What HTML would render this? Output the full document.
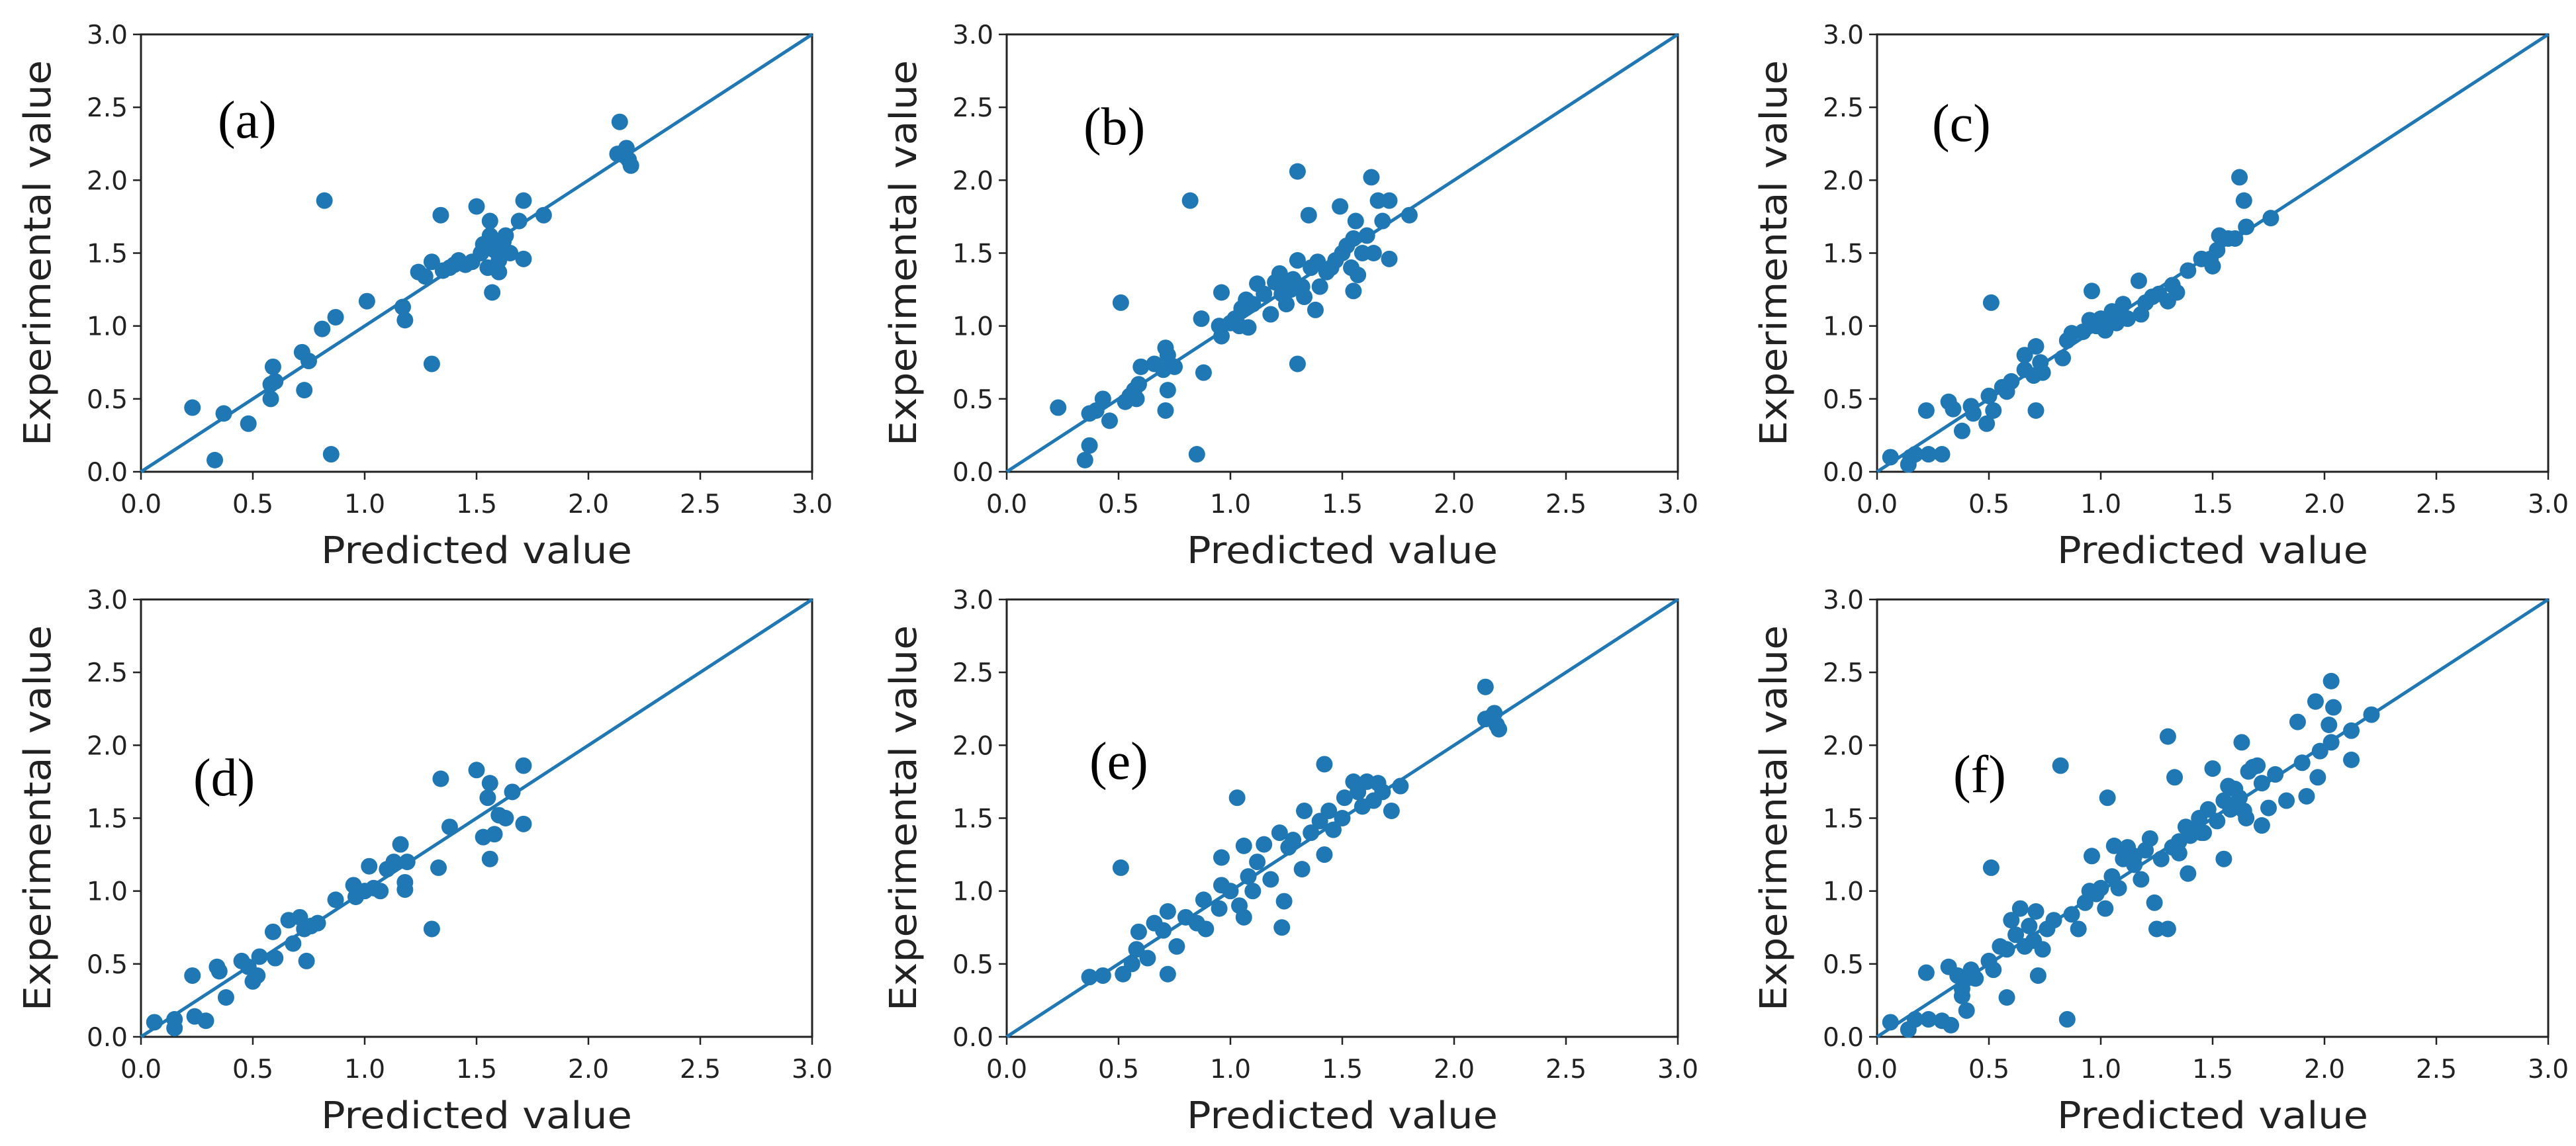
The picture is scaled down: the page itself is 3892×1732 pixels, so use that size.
<!DOCTYPE html>
<html><head><meta charset="utf-8"><style>
html,body{margin:0;padding:0;background:#fff;}
svg{display:block;}
</style></head><body>
<svg id="fig" width="3892" height="1732" viewBox="0 0 3892 1732" xmlns="http://www.w3.org/2000/svg"></svg>
<script>
const ticks = [0, 0.5, 1.0, 1.5, 2.0, 2.5, 3.0];
const tickLabels = ["0.0","0.5","1.0","1.5","2.0","2.5","3.0"];
const panelLetters = ["(a)","(b)","(c)","(d)","(e)","(f)"];

const predA = [0.23,0.33,0.37,0.48,0.58,0.58,0.59,0.60,0.72,0.73,0.75,0.81,0.82,0.85,0.87,1.01,1.17,1.18,1.24,1.27,1.30,1.30,1.34,1.35,1.40,1.45,1.48,1.50,1.52,1.53,1.55,1.56,1.56,1.57,1.58,1.60,1.60,1.62,1.63,1.65,1.69,1.71,1.71,1.80,2.14,2.13,2.17,2.18,2.19,2.16,1.42,1.38];
const expA  = [0.44,0.08,0.40,0.33,0.50,0.60,0.72,0.62,0.82,0.56,0.76,0.98,1.86,0.12,1.06,1.17,1.13,1.04,1.37,1.34,1.44,0.74,1.76,1.38,1.42,1.42,1.44,1.82,1.50,1.56,1.40,1.62,1.72,1.23,1.52,1.45,1.37,1.58,1.62,1.50,1.72,1.86,1.46,1.76,2.40,2.18,2.22,2.14,2.10,2.17,1.45,1.40];

const predB = [0.23,0.35,0.37,0.37,0.40,0.43,0.46,0.51,0.53,0.55,0.57,0.58,0.59,0.60,0.66,0.70,0.71,0.71,0.72,0.72,0.75,0.82,0.85,0.87,0.88,0.95,0.96,0.96,1.00,1.02,1.04,1.05,1.07,1.08,1.10,1.12,1.18,1.20,1.22,1.23,1.25,1.27,1.30,1.30,1.30,1.32,1.33,1.35,1.36,1.38,1.39,1.40,1.43,1.47,1.49,1.50,1.52,1.54,1.55,1.55,1.56,1.57,1.59,1.61,1.63,1.64,1.66,1.68,1.71,1.71,1.80,1.25,1.28,1.15,1.45];
const expB  = [0.44,0.08,0.18,0.40,0.42,0.50,0.35,1.16,0.48,0.52,0.56,0.50,0.60,0.72,0.74,0.70,0.85,0.42,0.56,0.80,0.72,1.86,0.12,1.05,0.68,1.00,0.93,1.23,1.02,1.05,1.00,1.12,1.18,0.99,1.15,1.29,1.08,1.30,1.36,1.22,1.15,1.25,2.06,0.74,1.45,1.27,1.20,1.76,1.40,1.11,1.44,1.27,1.37,1.45,1.82,1.50,1.55,1.40,1.24,1.60,1.72,1.35,1.50,1.62,2.02,1.50,1.86,1.72,1.86,1.46,1.76,1.28,1.32,1.22,1.40];

const predC = [0.06,0.14,0.15,0.17,0.23,0.29,0.22,0.32,0.34,0.38,0.42,0.43,0.49,0.50,0.51,0.52,0.56,0.58,0.60,0.66,0.66,0.70,0.71,0.71,0.73,0.74,0.83,0.85,0.87,0.92,0.95,0.96,0.98,1.00,1.02,1.05,1.07,1.10,1.12,1.17,1.18,1.20,1.23,1.26,1.30,1.32,1.34,1.39,1.45,1.49,1.50,1.52,1.53,1.57,1.60,1.62,1.64,1.65,1.76];
const expC  = [0.10,0.05,0.10,0.12,0.12,0.12,0.42,0.48,0.43,0.28,0.45,0.40,0.33,0.52,1.16,0.42,0.58,0.55,0.62,0.80,0.70,0.66,0.86,0.42,0.75,0.68,0.78,0.90,0.95,0.96,1.04,1.24,1.00,1.05,0.97,1.10,1.02,1.15,1.05,1.31,1.08,1.16,1.20,1.22,1.17,1.28,1.23,1.38,1.46,1.46,1.41,1.52,1.62,1.60,1.60,2.02,1.86,1.68,1.74];

const predD = [0.06,0.15,0.15,0.23,0.24,0.29,0.34,0.35,0.38,0.45,0.48,0.50,0.52,0.53,0.60,0.59,0.66,0.68,0.71,0.74,0.73,0.76,0.79,0.87,0.95,0.96,1.00,1.02,1.04,1.07,1.10,1.13,1.16,1.18,1.18,1.19,1.30,1.33,1.34,1.38,1.50,1.53,1.55,1.56,1.56,1.58,1.60,1.63,1.66,1.71,1.71];
const expD  = [0.10,0.06,0.12,0.42,0.14,0.11,0.48,0.45,0.27,0.52,0.48,0.38,0.42,0.55,0.54,0.72,0.80,0.64,0.82,0.52,0.74,0.76,0.78,0.94,1.04,0.96,1.00,1.17,1.02,1.00,1.15,1.20,1.32,1.06,1.01,1.20,0.74,1.16,1.77,1.44,1.83,1.37,1.64,1.74,1.22,1.39,1.52,1.50,1.68,1.86,1.46];

const predE = [0.37,0.43,0.52,0.51,0.56,0.58,0.59,0.63,0.66,0.70,0.72,0.72,0.76,0.80,0.85,0.88,0.89,0.95,0.96,0.96,1.00,1.03,1.04,1.06,1.06,1.08,1.10,1.12,1.15,1.18,1.22,1.24,1.23,1.26,1.28,1.32,1.33,1.36,1.40,1.42,1.42,1.44,1.46,1.50,1.51,1.55,1.57,1.59,1.61,1.64,1.66,1.68,1.72,1.76,2.14,2.14,2.17,2.19,2.20,2.18];
const expE  = [0.41,0.42,0.43,1.16,0.50,0.60,0.72,0.54,0.78,0.73,0.86,0.43,0.62,0.82,0.78,0.94,0.74,0.88,1.04,1.23,1.00,1.64,0.90,1.31,0.82,1.10,1.00,1.20,1.32,1.08,1.40,0.93,0.75,1.30,1.35,1.15,1.55,1.40,1.48,1.87,1.25,1.55,1.42,1.50,1.64,1.75,1.68,1.58,1.75,1.62,1.74,1.68,1.55,1.72,2.40,2.18,2.20,2.14,2.11,2.22];

const predF = [0.06,0.14,0.17,0.23,0.29,0.33,0.22,0.32,0.36,0.38,0.40,0.42,0.44,0.50,0.51,0.52,0.55,0.58,0.58,0.60,0.62,0.64,0.66,0.68,0.70,0.71,0.72,0.74,0.76,0.79,0.82,0.85,0.87,0.90,0.95,0.96,0.98,1.00,1.02,1.03,1.05,1.06,1.08,1.10,1.12,1.15,1.18,1.20,1.22,1.24,1.25,1.27,1.30,1.30,1.32,1.33,1.35,1.38,1.39,1.40,1.42,1.44,1.46,1.48,1.50,1.52,1.55,1.55,1.57,1.58,1.60,1.62,1.63,1.64,1.66,1.68,1.70,1.72,1.75,1.78,1.83,1.88,1.90,1.92,1.96,1.97,1.98,2.02,2.03,2.03,2.04,2.12,2.12,2.21,1.65,1.72,1.45,1.35,1.15,0.93,0.40,0.38];
const expF  = [0.10,0.05,0.12,0.12,0.11,0.08,0.44,0.48,0.42,0.28,0.18,0.46,0.40,0.52,1.16,0.46,0.62,0.60,0.27,0.80,0.70,0.88,0.62,0.76,0.66,0.86,0.42,0.60,0.74,0.80,1.86,0.12,0.84,0.74,1.00,1.24,0.98,1.02,0.88,1.64,1.10,1.31,1.02,1.22,1.30,1.18,1.08,1.28,1.36,0.92,0.74,1.22,2.06,0.74,1.30,1.78,1.26,1.44,1.12,1.38,1.42,1.50,1.40,1.56,1.84,1.48,1.62,1.22,1.72,1.56,1.70,1.64,2.02,1.55,1.82,1.85,1.86,1.45,1.57,1.80,1.62,2.16,1.88,1.65,2.30,1.78,1.96,2.14,2.44,2.02,2.26,2.10,1.90,2.21,1.50,1.74,1.40,1.34,1.24,0.92,0.40,0.33];

const seriesPred = [predA, predB, predC, predD, predE, predF];
const seriesExp  = [expA, expB, expC, expD, expE, expF];

// layout (not data)
const PW = 1014, PH = 661;
const lefts = [213, 1521, 2836, 213, 1521, 2836];
const tops  = [52, 52, 52, 906, 906, 906];
const letterPos = [[116,156],[116,166],[83,161],[79,296],[125,271],[115,291]];
const BLUE = "#1f77b4";
const NS = "http://www.w3.org/2000/svg";
const svg = document.getElementById("fig");

function mk(tag, attrs, parent) {
  const e = document.createElementNS(NS, tag);
  for (const k in attrs) e.setAttribute(k, attrs[k]);
  (parent || svg).appendChild(e);
  return e;
}

for (let p = 0; p < 6; p++) {
  const L = lefts[p], T = tops[p];
  const xs = v => L + v / 3 * PW;
  const ys = v => T + PH - v / 3 * PH;
  const g = mk("g", {});
  
  

  const frame = mk("rect", {x: L, y: T, width: PW, height: PH, fill: "none", stroke: "#222", "stroke-width": 3}, g);
  
  

  for (let i = 0; i < ticks.length; i++) {
    const tx = xs(ticks[i]);
    const tk = mk("line", {x1: tx, y1: T + PH, x2: tx, y2: T + PH + 12, stroke: "#222", "stroke-width": 2.5}, g);
    
    
    const xl = mk("text", {x: tx, y: T + PH + 62, "text-anchor": "middle", "font-family": "DejaVu Sans, Liberation Sans, sans-serif", "font-size": 39, fill: "#222"}, g);
    xl.textContent = tickLabels[i];
    
    

    const ty = ys(ticks[i]);
    const tk2 = mk("line", {x1: L - 12, y1: ty, x2: L, y2: ty, stroke: "#222", "stroke-width": 2.5}, g);
    
    
    const yl = mk("text", {x: L - 20, y: ty + 14, "text-anchor": "end", "font-family": "DejaVu Sans, Liberation Sans, sans-serif", "font-size": 39, fill: "#222"}, g);
    yl.textContent = tickLabels[i];
    
    
  }

  const ln = mk("line", {x1: xs(0), y1: ys(0), x2: xs(3), y2: ys(3), stroke: BLUE, "stroke-width": 5}, g);
  
  

  const px = seriesPred[p], py = seriesExp[p];
  for (let i = 0; i < px.length; i++) {
    const c = mk("circle", {cx: xs(px[i]), cy: ys(py[i]), r: 12.5, fill: BLUE}, g);
    
    
  }

  const xt = mk("text", {x: L + PW / 2, y: T + PH + 138, "text-anchor": "middle", "font-family": "DejaVu Sans, Liberation Sans, sans-serif", "font-size": 56, fill: "#222", textLength: 470, lengthAdjust: "spacingAndGlyphs"}, g);
  xt.textContent = "Predicted value";
  
  

  const cy = T + PH / 2;
  const yt = mk("text", {x: L - 137, y: cy, "text-anchor": "middle", "font-family": "DejaVu Sans, Liberation Sans, sans-serif", "font-size": 56, fill: "#222", textLength: 583, lengthAdjust: "spacingAndGlyphs", transform: "rotate(-90 " + (L - 137) + " " + cy + ")"}, g);
  yt.textContent = "Experimental value";
  
  

  const lt = mk("text", {x: L + letterPos[p][0], y: T + letterPos[p][1], "font-family": "Liberation Serif, serif", "font-size": 80, fill: "#000"}, g);
  lt.textContent = panelLetters[p];
  
  
}
</script>
</body></html>
